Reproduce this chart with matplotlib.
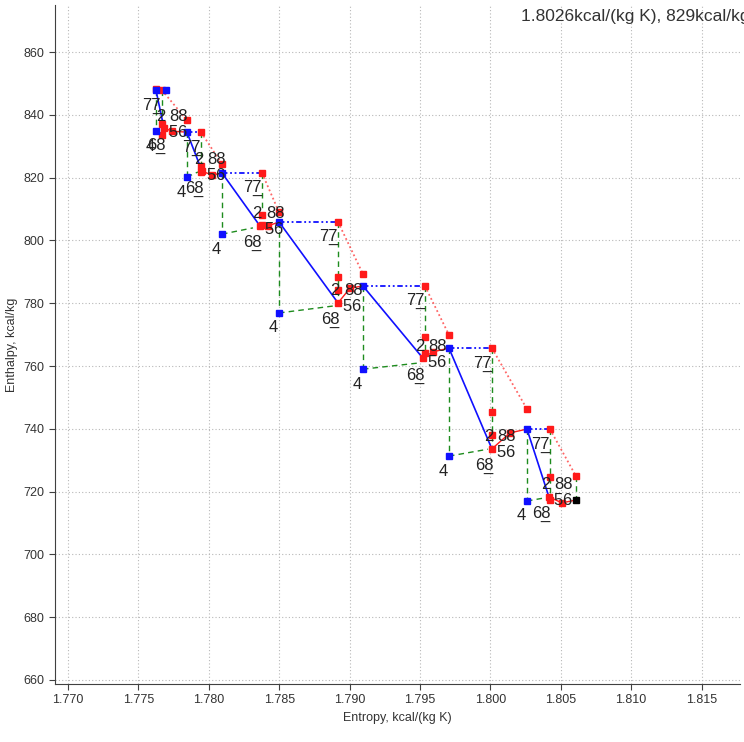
import matplotlib
matplotlib.use("Agg")
import matplotlib.pyplot as plt
import numpy as np

plt.rcParams['font.family'] = ['Liberation Sans', 'DejaVu Sans']

# stage data, entropy kcal/(kg K) and enthalpy kcal/kg
s_in = [1.77625, 1.77845, 1.78094, 1.78499, 1.79095, 1.79706, 1.80260]
h_in = [847.9, 834.5, 821.5, 805.9, 785.5, 765.7, 739.9]
h_top = [848.3, 838.3, 824.3, 809.0, 789.3, 769.9, 746.3]
h_iso = [834.8, 820.2, 802.0, 776.9, 759.0, 731.3, 717.0]
s_out = [1.77667, 1.77945, 1.78378, 1.78918, 1.79535, 1.80011, 1.80423]
s_end = [1.77682, 1.77952, 1.78364, 1.78918, 1.79521, 1.80011, 1.80416]
h_end = [835.8, 822.1, 804.6, 780.1, 762.5, 733.6, 718.3]
h_p1 = [837.1, 823.7, 808.1, 788.3, 769.2, 745.4, 724.6]
h_p2 = [833.6, 821.8, 804.9, 784.2, 764.1, 738.0, 717.3]
s_mid = [1.77739, 1.78023, 1.78420, 1.79003, 1.79592, 1.80140, 1.80508]
h_mid = [834.8, 820.8, 804.6, 784.8, 764.5, 738.7, 716.4]
s_x = [1.77653, 1.77923, 1.78314, 1.78882, 1.79500, 1.79983, 1.80388]
h_x = [835.1, 821.8, 804.0, 779.1, 761.0, 733.5, 718.0]
s_exit, h_exit_top, h_exit = 1.80607, 725.0, 717.3
s_first_blue = 1.77696  # second blue marker at the top

x_ticks = [1.770, 1.775, 1.780, 1.785, 1.790, 1.795, 1.800, 1.805, 1.810, 1.815]
y_ticks = [660, 680, 700, 720, 740, 760, 780, 800, 820, 840, 860]
readout = "1.8026kcal/(kg K), 829kcal/kg"

BLUE = '#1010ff'
RED = '#ff1a1a'
GREEN = '#1e8c1e'

fig = plt.figure(figsize=(7.44, 7.42), dpi=100)
ax = fig.add_axes([55/744, 1-684/742, 685/744, 679/742])

n = len(s_in)
s_next = s_in[1:] + [s_exit]
h_next = h_in[1:] + [h_exit]

for i in range(n):
    # green dashed construction lines
    ax.plot([s_in[i], s_in[i]], [h_in[i], h_iso[i]], color=GREEN, lw=1, ls=(0, (4, 3)), zorder=2)
    ax.plot([s_in[i], s_x[i]], [h_iso[i], h_x[i]], color=GREEN, lw=1, ls=(0, (4, 3)), zorder=2)
    ax.plot([s_out[i], s_out[i]], [h_in[i], h_end[i]], color=GREEN, lw=1, ls=(0, (4, 3)), zorder=2)
    # blue dash-dot from inlet to stagnation
    ax.plot([s_in[i], s_out[i]], [h_in[i], h_in[i]], color=BLUE, lw=1.3, ls=(0, (3, 1.5, 1, 1.5, 1, 1.5)), zorder=3)
    # blue expansion line
    ax.plot([s_in[i], s_end[i]], [h_in[i], h_end[i]], color=BLUE, lw=1.2, zorder=3)
    # red solid mixing line
    ax.plot([s_end[i], s_mid[i], s_next[i]], [h_end[i], h_mid[i], h_next[i]], color=RED, lw=1, zorder=3)
    # red dotted stagnation line
    s_t = s_in[i + 1] if i + 1 < n else s_exit
    h_t = h_top[i + 1] if i + 1 < n else h_exit_top
    ax.plot([s_out[i], s_t], [h_in[i], h_t], color='#ff4040', lw=1.3, ls=(0, (1, 1.5)), alpha=0.8, zorder=3)
ax.plot([s_exit, s_exit], [h_exit_top, h_exit], color=GREEN, lw=1, ls=(0, (4, 3)), zorder=2)

ms = 5
ax.plot(s_in, h_top, 's', color=RED, ms=ms, zorder=4)
ax.plot(s_out, h_in, 's', color=RED, ms=ms, zorder=4)
ax.plot(s_out, h_p1, 's', color=RED, ms=ms, zorder=4)
ax.plot(s_out, h_p2, 's', color=RED, ms=ms, zorder=4)
ax.plot(s_mid, h_mid, 's', color=RED, ms=ms, zorder=4)
ax.plot(s_end, h_end, 's', color=RED, ms=ms, zorder=4)
ax.plot([s_exit], [h_exit_top], 's', color=RED, ms=ms, zorder=4)
ax.plot(s_in, h_in, 's', color=BLUE, ms=ms, zorder=5)
ax.plot([s_first_blue], [h_in[0]], 's', color=BLUE, ms=ms, zorder=5)
ax.plot(s_in, h_iso, 's', color=BLUE, ms=ms, zorder=5)
ax.plot([s_exit], [h_exit], 's', color='black', ms=ms, zorder=5)

lab = dict(fontsize=12, ha='center', va='center', textcoords='offset pixels',
           color='#222222', zorder=6)
for i in range(n):
    ax.annotate('4', (s_in[i], h_iso[i]), xytext=(-6, -15), **lab)
    ax.annotate('77', (s_out[i], h_in[i]), xytext=(-10, -15), **lab)
    ax.annotate('_', (s_out[i], h_in[i]), xytext=(-5, -17), **lab)
    ax.annotate('2', (s_end[i], h_end[i]), xytext=(-3, 12), **lab)
    ax.annotate('88', (s_end[i], h_end[i]), xytext=(15, 12), **lab)
    ax.annotate('5', (s_end[i], h_end[i]), xytext=(9, -4), **lab)
    ax.annotate('6', (s_end[i], h_end[i]), xytext=(18, -4), **lab)
    ax.annotate('68', (s_end[i], h_end[i]), xytext=(-8, -17), **lab)
    ax.annotate('_', (s_end[i], h_end[i]), xytext=(-4, -19), **lab)

ax.set_xlim(1.76908, 1.81773)
ax.set_ylim(658.7, 875.0)
ax.set_xticks(x_ticks)
ax.set_xticklabels([f"{v:.3f}" for v in x_ticks])
ax.set_yticks(y_ticks)
ax.grid(True, color='#b8b8b8', ls=(0, (1, 2)), lw=0.8)
ax.set_axisbelow(True)
for side in ['top', 'right']:
    ax.spines[side].set_visible(False)
for side in ['left', 'bottom']:
    ax.spines[side].set_color('#404040')
ax.tick_params(labelsize=9, colors='#404040', length=4, labelcolor='#333333')
ax.set_xlabel("Entropy, kcal/(kg K)", fontsize=9, color='#333333')
ax.set_ylabel("Enthalpy, kcal/kg", fontsize=9, color='#333333', labelpad=4)

fig.text(521/744, 1-17/742, readout, fontsize=12.5, ha='left', va='center', color='#333333')

fig.savefig("out.png", dpi=100)
